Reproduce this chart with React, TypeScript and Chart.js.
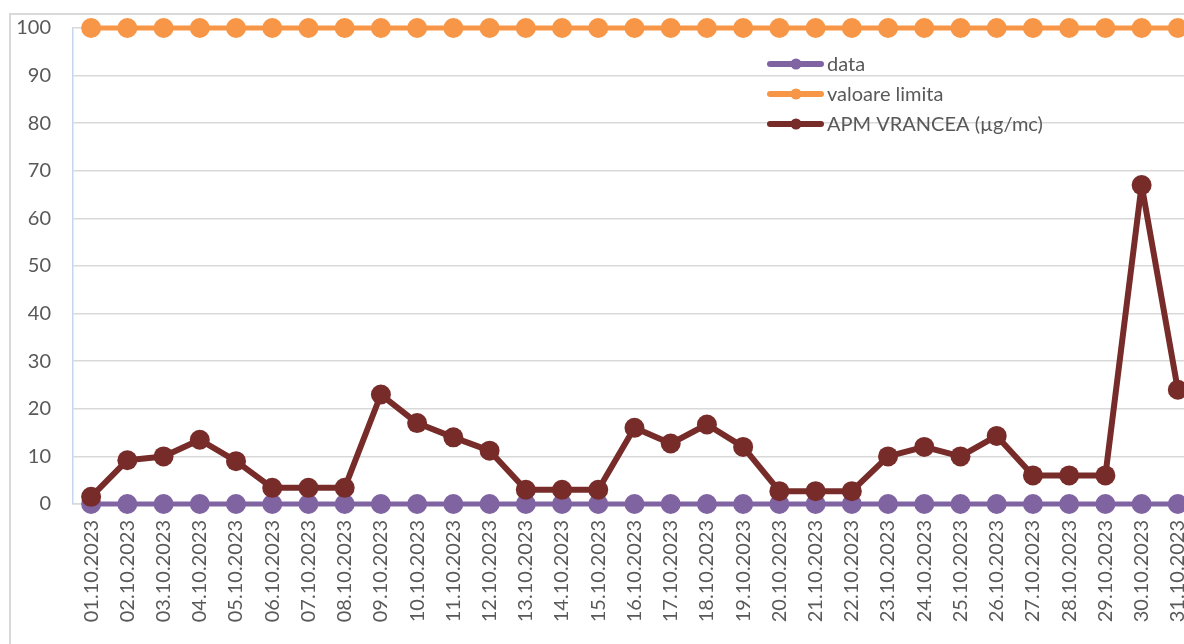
import React, { useEffect, useRef } from "react";
import { Chart, registerables } from "chart.js";

Chart.register(...registerables);

const categories = [
  "01.10.2023", "02.10.2023", "03.10.2023", "04.10.2023", "05.10.2023", "06.10.2023",
  "07.10.2023", "08.10.2023", "09.10.2023", "10.10.2023", "11.10.2023", "12.10.2023",
  "13.10.2023", "14.10.2023", "15.10.2023", "16.10.2023", "17.10.2023", "18.10.2023",
  "19.10.2023", "20.10.2023", "21.10.2023", "22.10.2023", "23.10.2023", "24.10.2023",
  "25.10.2023", "26.10.2023", "27.10.2023", "28.10.2023", "29.10.2023", "30.10.2023",
  "31.10.2023",
];

const dataSeries = categories.map(() => 0);
const limitValues = categories.map(() => 100);
const apmVrancea = [
  1.5, 9.2, 10, 13.5, 9, 3.4, 3.4, 3.4, 23, 17, 14, 11.2, 3, 3, 3, 16, 12.7, 16.7, 12,
  2.7, 2.7, 2.7, 10, 12, 10, 14.3, 6, 6, 6, 67, 24,
];

const seriesNames = ["data", "valoare limita", "APM VRANCEA (µg/mc)"];
const seriesColors = ["#8064A2", "#F79646", "#772C2A"];

const FONT = "Lato, 'Open Sans', sans-serif";
const TEXT = "#595959";
const SHIFT = 6;

const legendPlugin = {
  id: "customLegend",
  afterDraw(chart: any) {
    const ctx = chart.ctx;
    const ys = [64 + SHIFT, 94 + SHIFT, 124 + SHIFT];
    ctx.save();
    seriesNames.forEach((name, i) => {
      const y = ys[i];
      ctx.strokeStyle = seriesColors[i];
      ctx.lineWidth = 6;
      ctx.lineCap = "round";
      ctx.beginPath();
      ctx.moveTo(770, y);
      ctx.lineTo(821, y);
      ctx.stroke();
      ctx.fillStyle = seriesColors[i];
      ctx.beginPath();
      ctx.arc(796, y, 5.5, 0, Math.PI * 2);
      ctx.fill();
      ctx.fillStyle = TEXT;
      ctx.font = `20px ${FONT}`;
      ctx.textBaseline = "middle";
      ctx.textAlign = "left";
      ctx.fillText(name, 827, y + 1);
    });
    ctx.restore();
  },
};

function lineDataset(label: string, data: number[], color: string, width: number, order: number) {
  return {
    label,
    data,
    borderColor: color,
    backgroundColor: color,
    borderWidth: width,
    borderJoinStyle: "round" as const,
    borderCapStyle: "round" as const,
    pointRadius: 10,
    pointHoverRadius: 10,
    pointBorderWidth: 0,
    clip: false as any,
    order,
  };
}

export default function App() {
  const ref = useRef<HTMLCanvasElement | null>(null);

  useEffect(() => {
    if (!ref.current) return;
    const chart = new Chart(ref.current, {
      type: "line",
      data: {
        labels: categories,
        datasets: [
          lineDataset(seriesNames[0], dataSeries, seriesColors[0], 5, 3),
          lineDataset(seriesNames[1], limitValues, seriesColors[1], 5, 2),
          lineDataset(seriesNames[2], apmVrancea, seriesColors[2], 6, 1),
        ],
      },
      options: {
        responsive: false,
        animation: false,
        layout: { padding: { left: 0, right: 5, top: 0, bottom: 0 } },
        plugins: {
          legend: { display: false },
          tooltip: { enabled: false },
        },
        scales: {
          x: {
            offset: true,
            grid: { display: false, drawTicks: false },
            border: { color: "#d9d9d9", width: 1.5 },
            ticks: {
              minRotation: 90,
              maxRotation: 90,
              autoSkip: false,
              padding: 16,
              color: TEXT,
              font: { family: FONT, size: 20 },
            },
            afterFit(scale: any) {
              scale.height = 140;
            },
          },
          y: {
            min: 0,
            max: 100,
            ticks: {
              stepSize: 10,
              padding: 22,
              color: TEXT,
              font: { family: FONT, size: 20 },
            },
            grid: { color: "#d9d9d9", lineWidth: 1.5, drawTicks: false },
            border: { color: "#c6d6ec", width: 1.5 },
            afterFit(scale: any) {
              scale.width = 73;
            },
          },
        },
      },
      plugins: [legendPlugin],
    });
    return () => chart.destroy();
  }, []);

  return (
    <div
      style={{
        position: "fixed",
        left: 0,
        top: 0,
        width: 1184,
        height: 644,
        overflow: "hidden",
        background: "#ffffff",
      }}
    >
      <div
        style={{
          position: "absolute",
          left: 9,
          top: 13,
          width: 1300,
          height: 800,
          border: "2px solid #d9d9d9",
        }}
      />
      <canvas
        ref={ref}
        width={1218}
        height={644 + SHIFT}
        style={{ position: "absolute", left: 0, top: -SHIFT }}
      />
    </div>
  );
}
